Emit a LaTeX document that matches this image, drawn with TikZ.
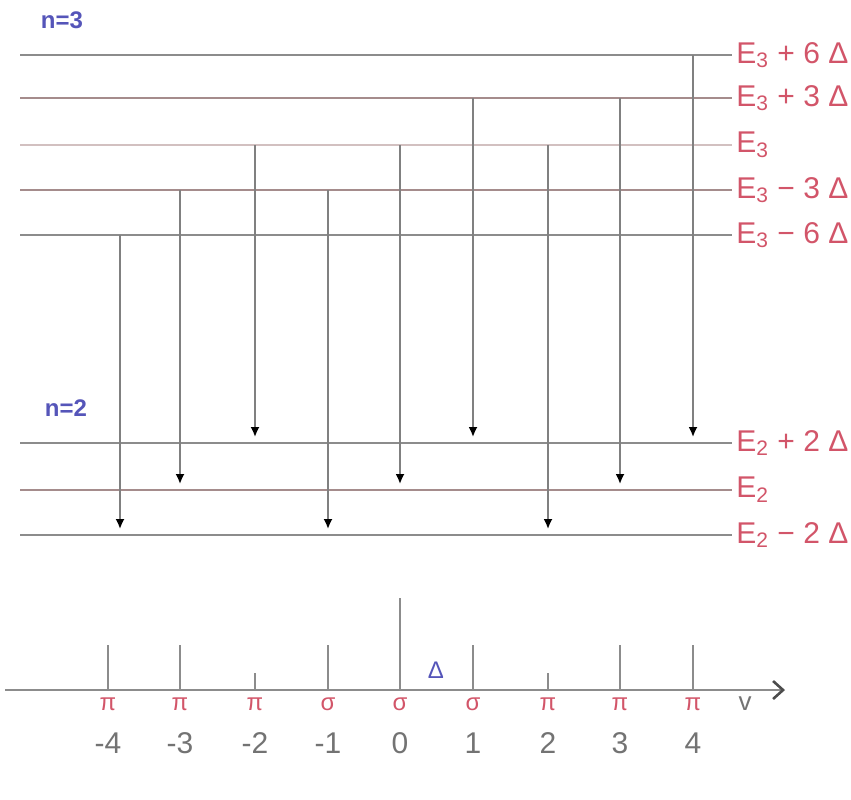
\documentclass[tikz,border=0pt]{standalone}
\usepackage{fontspec}
\setmainfont{Liberation Sans}
\usetikzlibrary{arrows.meta}
\definecolor{lvlgray}{RGB}{140,140,140}
\definecolor{lvlbrown}{RGB}{165,140,140}
\definecolor{lvllight}{RGB}{210,192,192}
\definecolor{labred}{RGB}{210,85,105}
\definecolor{labblue}{RGB}{85,85,185}
\definecolor{numgray}{RGB}{115,115,115}

\begin{document}
\begin{tikzpicture}[x=0.5pt, y=-0.5pt, >={Latex[length=5pt,width=4.5pt,color=black]},
    level/.style={line width=1.4pt},
    trans/.style={->, draw=black!50, line width=0.9pt},
    elabel/.style={anchor=west, text=labred, font=\fontsize{15}{18}\selectfont, inner sep=2pt},
    nlabel/.style={text=labblue, font=\fontsize{12}{14}\selectfont\bfseries, inner sep=1pt},
    peak/.style={draw=black!45, line width=1pt},
    sym/.style={text=labred, font=\fontsize{12}{14}\selectfont, inner sep=1pt},
    num/.style={text=numgray, font=\fontsize{15}{18}\selectfont, inner sep=1pt}]

  \useasboundingbox (0,0) rectangle (851,799);

  % n = 3 levels
  \node[nlabel] (n3) at (62,20) {n=3};
  \coordinate (a3p6) at (20,55);
  \coordinate (a3p3) at (20,98);
  \coordinate (a3) at (20,145);
  \coordinate (a3m3) at (20,190);
  \coordinate (a3m6) at (20,235);
  \node[elabel] (e3p6) at (732,55) {E\textsubscript{3} + 6 Δ};
  \node[elabel] (e3p3) at (732,98) {E\textsubscript{3} + 3 Δ};
  \node[elabel] (e3) at (732,145) {E\textsubscript{3}};
  \node[elabel] (e3m3) at (732,190) {E\textsubscript{3} − 3 Δ};
  \node[elabel] (e3m6) at (732,235) {E\textsubscript{3} − 6 Δ};
  \draw[level, lvlgray] (a3p6) -- (e3p6.west);
  \draw[level, lvlbrown] (a3p3) -- (e3p3.west);
  \draw[level, lvllight] (a3) -- (e3.west);
  \draw[level, lvlbrown] (a3m3) -- (e3m3.west);
  \draw[level, lvlgray] (a3m6) -- (e3m6.west);

  % n = 2 levels
  \node[nlabel] (n2) at (66,408) {n=2};
  \coordinate (a2p2) at (20,443);
  \coordinate (a2) at (20,490);
  \coordinate (a2m2) at (20,535);
  \node[elabel] (e2p2) at (732,443) {E\textsubscript{2} + 2 Δ};
  \node[elabel] (e2) at (732,490) {E\textsubscript{2}};
  \node[elabel] (e2m2) at (732,535) {E\textsubscript{2} − 2 Δ};
  \draw[level, lvlgray] (a2p2) -- (e2p2.west);
  \draw[level, lvlbrown] (a2) -- (e2.west);
  \draw[level, lvlgray] (a2m2) -- (e2m2.west);

  % transitions
  \foreach \x/\ya/\yb [count=\i] in {120/235/529, 180/190/484, 255/145/437,
      328/190/529, 400/145/484, 473/98/437, 548/145/529, 620/98/484, 693/55/437} {
    \coordinate (up\i) at (\x,\ya);
    \coordinate (dn\i) at (\x,\yb);
    \draw[trans] (up\i) -- (dn\i);
  }

  % spectrum
  \coordinate (ax0) at (5,690);
  \coordinate (ax1) at (785,690);
  \draw[draw=black!45, line width=1.3pt, -{Straight Barb[length=5pt,width=9pt,color=black!70]}] (ax0) -- (ax1);
  \foreach \x/\h/\s/\v [count=\i] in {108/645/π/-4, 180/645/π/-3, 255/673/π/-2,
      328/645/σ/-1, 400/598/σ/0, 473/645/σ/1, 548/673/π/2, 620/645/π/3, 693/645/π/4} {
    \coordinate (b\i) at (\x,690);
    \coordinate (t\i) at (\x,\h);
    \draw[peak] (b\i) -- (t\i);
    \node[sym] (s\i) at (\x,704) {\s};
    \node[num] (v\i) at (\x,743) {\v};
  }
  \node[num, font=\fontsize{13}{15}\selectfont] (vlab) at (745,704) {v};
  \node[nlabel, font=\fontsize{12}{14}\selectfont] (dlt) at (436,670) {Δ};
\end{tikzpicture}
\end{document}
